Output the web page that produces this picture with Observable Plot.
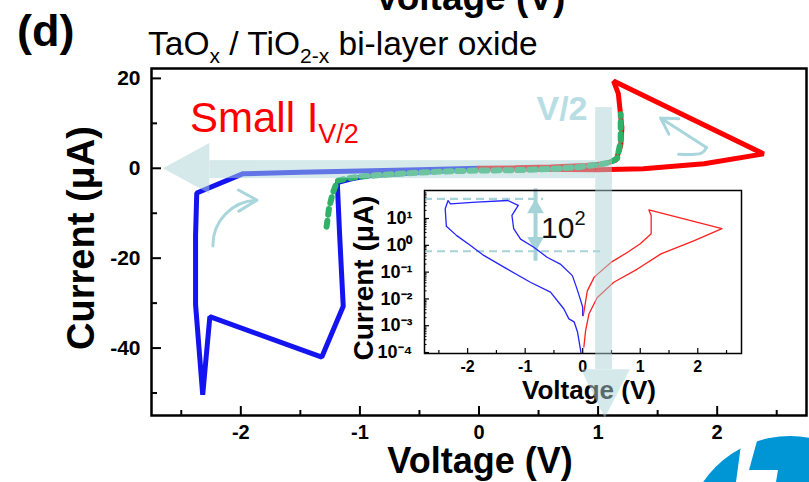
<!DOCTYPE html>
<html><head><meta charset="utf-8">
<script src="https://cdn.jsdelivr.net/npm/d3@7"></script>
<script src="https://cdn.jsdelivr.net/npm/@observablehq/plot@0.6"></script>
<style>
html,body{margin:0;padding:0;background:#fff;}
#wrap{position:relative;width:809px;height:482px;overflow:hidden;font-family:"Liberation Sans",Arial,sans-serif;}
#wrap > svg{position:absolute;left:0;top:0;}
</style></head><body><div id="wrap"></div>
<script>
// ---------- main I-V (linear) ----------
const blueV = [0, -0.24, -0.66, -0.95, -1.08, -1.19, -1.17, -1.14, -1.32, -2.26, -2.32, -2.38, -2.38, -2.37, -1.98, -1.5, -1.0, -0.5, 0];
const blueI = [-0.1, -0.5, -1.2, -1.7, -2.4, -3.2, -15, -30.7, -42, -33, -50.4, -30.3, -15, -5.5, -1.2, -0.9, -0.6, -0.3, 0];
const redV = [0, 0.3, 0.6, 0.9, 1.05, 1.15, 1.19, 1.2, 1.17, 1.13, 2.39, 1.89, 1.38, 1.0, 0.5, 0];
const redI = [0, 0.1, 0.3, 0.6, 1.0, 1.8, 5, 9, 16.6, 19.4, 3.2, 1.0, -0.1, -0.3, -0.2, 0];
const greenV = [-1.28, -1.26, -1.23, -1.19, -1.1, -0.94, -0.6, -0.3, 0, 0.35, 0.65, 0.85, 1.0, 1.1, 1.16, 1.19, 1.19];
const greenI = [-13, -9, -5.7, -2.8, -2.2, -1.7, -1.1, -0.7, -0.5, -0.4, -0.1, 0.3, 0.8, 1.3, 2.2, 6, 12];
const xMajor = [-2, -1, 0, 1, 2];
const xMinor = [-2.5, -1.5, -0.5, 0.5, 1.5, 2.5];
const yMajor = [20, 0, -20, -40];
const yMinor = [10, -10, -30, -50];

// ---------- inset I-V (log |I|) ----------
const insetBlueV = [-0.03, -0.09, -0.15, -0.24, -0.33, -0.56, -0.91, -1.31, -1.72, -1.95, -2.19, -2.37, -2.39, -2.34, -2.30, -1.85, -1.30, -1.12, -1.23, -1.20, -1.08, -0.85, -0.62, -0.39, -0.18, -0.12, -0.06, 0.0, 0.0];
const insetBlueI = [1.0e-4, 5.8e-4, 1.4e-3, 1.8e-3, 4.3e-3, 0.018, 0.042, 0.13, 0.42, 0.98, 2.3, 5.1, 23, 47, 35, 41, 47, 31, 13, 4.2, 1.7, 0.85, 0.36, 0.20, 0.074, 0.032, 0.013, 4.9e-3, 2.4e-3];
const insetRedV = [0.02, 0.05, 0.11, 0.25, 0.54, 0.95, 1.36, 1.94, 2.42, 1.15, 1.19, 1.19, 1.0, 0.78, 0.49, 0.2, 0.08, 0.01];
const insetRedI = [1.6e-4, 6.6e-4, 2.8e-3, 0.011, 0.042, 0.13, 0.48, 1.5, 4.2, 21, 13, 2.7, 1.15, 0.55, 0.23, 0.065, 0.020, 2.4e-3];
const insetXMajor = [-2, -1, 0, 1, 2];
const insetXMinor = [-2.5, -1.5, -0.5, 0.5, 1.5, 2.5];
const insetYMajor = [1e-4, 1e-3, 1e-2, 1e-1, 1e0, 1e1];
const insetWindow = [54, 0.6];          // dashed lines marking the 10^2 window
const windowArrowV = -0.82;

// ---------- annotation arrows (data units of main chart) ----------
const hArrow = {shaftV: [-2.26, 0.98], shaftI: [-2.3, 1.7], headBackV: -2.26, tipV: -2.65, headI: [5.5, -0.1, -5.7]};
const vArrow = {shaftV: [0.98, 1.12], shaftI: [-44.8, 13.5], headV: [0.86, 1.06, 1.27], headBackI: -44.8, tipI: -55.6};
const curl1 = {x1: -2.234, y1: -17.3, x2: -1.864, y2: -7.1};
const curl2V = [1.676, 1.87, 1.91], curl2I = [3.1, 3.4, 4.6];
const curl2Head = {x1: 1.91, y1: 4.6, x2: 1.525, y2: 11.2};

const W = 809, H = 482;
const FONT = "Liberation Sans, Arial, sans-serif";
const teal = "#add5d9";
const zip = (a, b) => a.map((v, i) => ({v, i: b[i]}));
const wrap = document.getElementById("wrap");

// ---------- main plot ----------
const mainOpts = {width: W, height: H, marginLeft: 151, marginRight: 3, marginTop: 68, marginBottom: 67,
  x: {domain: [-2.75, 2.75]}, y: {domain: [-55, 22.2]}};

const main = Plot.plot({
  ...mainOpts,
  style: {background: "transparent", overflow: "visible", fontFamily: FONT},
  marks: [
    Plot.axisX({ticks: xMajor, tickSize: -9, strokeWidth: 2, tickFormat: () => "", label: null}),
    Plot.axisX({ticks: xMinor, tickSize: -5, strokeWidth: 2, tickFormat: () => "", label: null}),
    Plot.axisX({ticks: xMajor, tickSize: 0, tickPadding: 9, tickFormat: d => String(d), fontSize: 20, fontWeight: "bold", label: null, fill: "black"}),
    Plot.axisY({ticks: yMajor, tickSize: -10, strokeWidth: 2, tickFormat: () => "", label: null}),
    Plot.axisY({ticks: yMinor, tickSize: -6, strokeWidth: 2, tickFormat: () => "", label: null}),
    Plot.axisY({ticks: yMajor, tickSize: 0, tickPadding: 11, tickFormat: d => String(d), fontSize: 21, fontWeight: "bold", label: null, fill: "black"}),
    Plot.line(zip(blueV, blueI), {x: "v", y: "i", stroke: "#1414f0", strokeWidth: 5, strokeLinejoin: "miter"}),
    Plot.line(zip(redV, redI), {x: "v", y: "i", stroke: "#ff0000", strokeWidth: 5, strokeLinejoin: "miter"}),
    Plot.line(zip(greenV, greenI), {x: "v", y: "i", stroke: "#2fb268", strokeWidth: 6, strokeDasharray: "6,6"}),
    Plot.arrow([curl1], {x1: "x1", y1: "y1", x2: "x2", y2: "y2", bend: 45, stroke: "#a9d6dc", strokeWidth: 3, headLength: 12}),
    Plot.line(zip(curl2V, curl2I), {x: "v", y: "i", curve: "catmull-rom", stroke: "#a9d6dc", strokeWidth: 3}),
    Plot.arrow([curl2Head], {x1: "x1", y1: "y1", x2: "x2", y2: "y2", stroke: "#a9d6dc", strokeWidth: 3, headLength: 12}),
    Plot.frame({stroke: "black", strokeWidth: 2.5}),
    Plot.text(["Voltage (V)"], {text: d => d, frameAnchor: "bottom", lineAnchor: "middle", textAnchor: "middle", dy: 46, dx: 1, fontSize: 36, fontWeight: "bold", fill: "black"}),
    Plot.text(["Current (μA)"], {text: d => d, frameAnchor: "left", lineAnchor: "middle", textAnchor: "middle", rotate: -90, dx: -70, dy: -4, fontSize: 38, fontWeight: "bold", fill: "black"})
  ]
});
wrap.appendChild(main);

// ---------- inset plot ----------
const sup = s => s.replace(/[-0-9]/g, c => ({"-": "⁻", "0": "⁰", "1": "¹", "2": "²", "3": "³", "4": "⁴", "5": "⁵", "6": "⁶", "7": "⁷", "8": "⁸", "9": "⁹"})[c]);
const insetYMinor = [];
for (const d of insetYMajor.concat([1e2])) for (let k = 2; k <= 9; k++) insetYMinor.push(d * k / 10);
const inset = Plot.plot({
  width: W, height: H, marginLeft: 424, marginRight: 68, marginTop: 190, marginBottom: 129,
  x: {domain: [-2.75, 2.76]}, y: {type: "log", domain: [9.2e-5, 111]},
  style: {background: "transparent", overflow: "visible", fontFamily: FONT},
  marks: [
    Plot.frame({fill: "white", stroke: null}),
    Plot.axisX({ticks: insetXMajor, tickSize: -5, strokeWidth: 1.2, tickFormat: () => "", label: null}),
    Plot.axisX({ticks: insetXMinor, tickSize: -3, strokeWidth: 1.2, tickFormat: () => "", label: null}),
    Plot.axisX({ticks: insetXMajor, tickSize: 0, tickPadding: 7, tickFormat: d => String(d), fontSize: 16, fontWeight: "bold", label: null, fill: "black"}),
    Plot.axisY({ticks: insetYMajor, tickSize: -5, strokeWidth: 1.2, tickFormat: () => "", label: null}),
    Plot.axisY({ticks: insetYMinor.filter(d => d > 9.2e-5 && d < 111), tickSize: -2.5, strokeWidth: 1, tickFormat: () => "", label: null}),
    Plot.axisY({ticks: insetYMajor, tickSize: 0, tickPadding: 12, tickFormat: d => "10" + sup(String(Math.round(Math.log10(d)))), fontSize: 18, fontWeight: "bold", label: null, fill: "black"}),
    Plot.ruleY([insetWindow[0]], {x1: -2.75, x2: -0.68, stroke: "#a6d3d8", strokeWidth: 2.2, strokeDasharray: "8,5"}),
    Plot.ruleY([insetWindow[1]], {x1: -2.75, x2: 0.31, stroke: "#a6d3d8", strokeWidth: 2.2, strokeDasharray: "8,5"}),
    Plot.ruleX([windowArrowV], {y1: insetWindow[1], y2: insetWindow[0], stroke: "#a6d3d8", strokeWidth: 4, insetTop: 10, insetBottom: 10}),
    Plot.dot([windowArrowV], {x: d => d, y: insetWindow[0], symbol: "triangle", r: 6.2, fill: "#a6d3d8", stroke: null, dy: 9.5}),
    Plot.dot([windowArrowV], {x: d => d, y: insetWindow[1], symbol: "triangle", r: 6.2, rotate: 180, fill: "#a6d3d8", stroke: null, dy: -9.5}),
    Plot.line(zip(insetBlueV, insetBlueI), {x: "v", y: "i", stroke: "#2424ff", strokeWidth: 1.3}),
    Plot.line(zip(insetRedV, insetRedI), {x: "v", y: "i", stroke: "#ff2020", strokeWidth: 1.3}),
    Plot.frame({stroke: "black", strokeWidth: 1.5}),
    Plot.text(["Voltage (V)"], {text: d => d, frameAnchor: "bottom", lineAnchor: "middle", textAnchor: "middle", dy: 37, dx: 6, fontSize: 26, fontWeight: "bold", fill: "black"}),
    Plot.text(["Current (μA)"], {text: d => d, frameAnchor: "left", lineAnchor: "middle", textAnchor: "middle", rotate: -90, dx: -60, dy: 6, fontSize: 28, fontWeight: "bold", fill: "black"})
  ]
});
wrap.appendChild(inset);

// ---------- translucent V/2 arrows on top ----------
const arrows = Plot.plot({
  ...mainOpts, axis: null,
  style: {background: "transparent", overflow: "visible", opacity: 0.5},
  marks: [
    Plot.rect([hArrow], {x1: d => d.shaftV[0], x2: d => d.shaftV[1], y1: d => d.shaftI[0], y2: d => d.shaftI[1], fill: teal}),
    Plot.areaX(hArrow.headI.map((y, k) => ({y, x1: k === 1 ? hArrow.tipV : hArrow.headBackV})), {y: "y", x1: "x1", x2: hArrow.headBackV, fill: teal}),
    Plot.rect([vArrow], {x1: d => d.shaftV[0], x2: d => d.shaftV[1], y1: d => d.shaftI[0], y2: d => d.shaftI[1], fill: teal}),
    Plot.areaY(vArrow.headV.map((x, k) => ({x, y1: k === 1 ? vArrow.tipI : vArrow.headBackI})), {x: "x", y1: "y1", y2: vArrow.headBackI, fill: teal})
  ]
});
wrap.appendChild(arrows);

// ---------- text annotations with sub/superscripts ----------
const svg = d3.create("svg").attr("width", W).attr("height", H).style("overflow", "visible")
  .attr("font-family", FONT);
svg.append("text").attr("x", 17).attr("y", 46).attr("font-size", 45).attr("font-weight", "bold").text("(d)");
svg.append("text").attr("x", 470).attr("y", 10).attr("font-size", 37).attr("font-weight", "bold").attr("text-anchor", "middle").text("Voltage (V)");
const t = svg.append("text").attr("x", 148).attr("y", 55).attr("font-size", 33.5);
t.append("tspan").text("TaO");
t.append("tspan").attr("font-size", 21).attr("dy", 8).text("x");
t.append("tspan").attr("dy", -8).text(" / TiO");
t.append("tspan").attr("font-size", 21).attr("dy", 8).text("2-x");
t.append("tspan").attr("dy", -8).text(" bi-layer oxide");
const s = svg.append("text").attr("x", 190).attr("y", 132).attr("font-size", 42).attr("fill", "#ff0000");
s.append("tspan").text("Small I");
s.append("tspan").attr("font-size", 27).attr("dy", 11).text("V/2");
svg.append("text").attr("x", 562).attr("y", 120).attr("font-size", 34).attr("font-weight", "bold")
  .attr("font-family", "Liberation Sans Narrow, " + FONT).attr("text-anchor", "middle").attr("fill", "#b8dee4").text("V/2");
const p = svg.append("text").attr("x", 541).attr("y", 238).attr("font-size", 30).attr("fill", "#111");
p.append("tspan").text("10");
p.append("tspan").attr("font-size", 20).attr("dy", -13).text("2");
wrap.appendChild(svg.node());

// ---------- corner logo (decoration) ----------
const logo = d3.create("svg").attr("width", W).attr("height", H);
logo.append("circle").attr("cx", 790).attr("cy", 541).attr("r", 105).attr("fill", "#0096d6");
logo.append("polygon").attr("points", "743,430 760,430 749,470 778,470 776,482 736,482").attr("fill", "#fff");
wrap.appendChild(logo.node());
</script></body></html>
